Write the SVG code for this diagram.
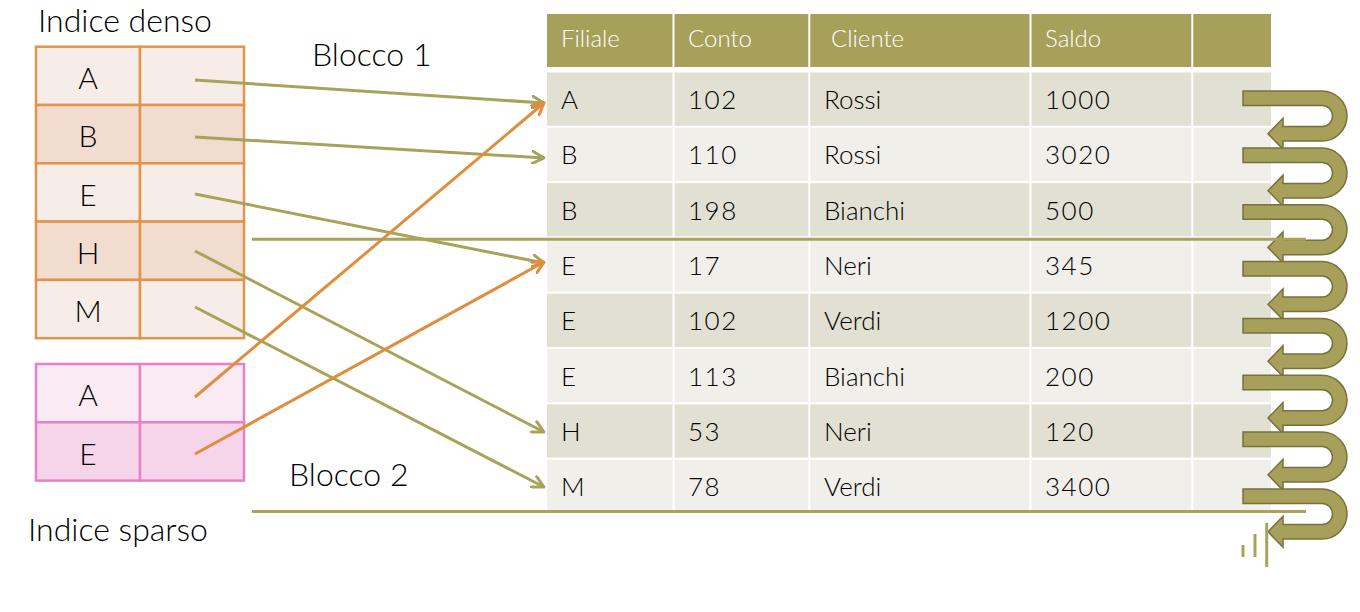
<svg xmlns="http://www.w3.org/2000/svg" xmlns:xlink="http://www.w3.org/1999/xlink" width="1360" height="612" viewBox="0 0 1360 612">
<style>
.t{font-family:Lato,"Open Sans","Liberation Sans",sans-serif;fill:#000;font-weight:300;}
.lbl{font-size:32px;}
.key{font-size:30px;text-anchor:middle;}
.hd{font-size:24px;fill:#fff;}
.dt{font-size:26px;}
.num{letter-spacing:1.5px;}
.dark{fill:#e1e0d2;}
.light{fill:#f0efea;}
.hdr{fill:#a6a05a;}
.dcell{stroke:#e0954a;stroke-width:2.5;}
.scell{stroke:#e683c8;stroke-width:2.5;}
.ol{stroke:#a8a35a;stroke-width:3;fill:none;}
.or{stroke:#e08d3c;stroke-width:3;fill:none;}
.sep{stroke:#fff;stroke-width:2;}
.u{fill:#a6a05a;stroke:#77713e;stroke-width:1.5;}
</style>
<defs>
<marker id="aOl" viewBox="0 0 14 14" refX="12.5" refY="7" markerWidth="14" markerHeight="14" markerUnits="userSpaceOnUse" orient="auto">
<path d="M1,1 L12.5,7 L1,13" fill="none" stroke="#a8a35a" stroke-width="3" stroke-linecap="round" stroke-linejoin="round"/>
</marker>
<marker id="aOr" viewBox="0 0 14 14" refX="12.5" refY="7" markerWidth="14" markerHeight="14" markerUnits="userSpaceOnUse" orient="auto">
<path d="M1,1 L12.5,7 L1,13" fill="none" stroke="#e08d3c" stroke-width="3" stroke-linecap="round" stroke-linejoin="round"/>
</marker>
<path id="uturn" class="u" d="M0,0 H79 A25,25 0 0 1 79,50 H40 V58.25 L25,42.75 L40,27.25 V35.5 H79 A10.5,10.5 0 0 0 79,14.5 H0 Z"/>
</defs>

<rect width="1360" height="612" fill="#fff"/>

<text class="t lbl" x="38" y="32">Indice denso</text>
<text class="t lbl" x="312" y="66">Blocco 1</text>
<text class="t lbl" x="289" y="486">Blocco 2</text>
<text class="t lbl" x="28" y="541">Indice sparso</text>

<g id="dense-index">
<g id="dense-A"><rect class="dcell" x="36" y="46.7" width="104" height="58.3" fill="#f7ede8"/><rect class="dcell" x="140" y="46.7" width="104" height="58.3" fill="#f7ede8"/><text class="t key" x="88" y="89">A</text></g>
<g id="dense-B"><rect class="dcell" x="36" y="105" width="104" height="58.3" fill="#f2dcd0"/><rect class="dcell" x="140" y="105" width="104" height="58.3" fill="#f2dcd0"/><text class="t key" x="88" y="147.3">B</text></g>
<g id="dense-E"><rect class="dcell" x="36" y="163.3" width="104" height="58.3" fill="#f7ede8"/><rect class="dcell" x="140" y="163.3" width="104" height="58.3" fill="#f7ede8"/><text class="t key" x="88" y="205.6">E</text></g>
<g id="dense-H"><rect class="dcell" x="36" y="221.6" width="104" height="58.3" fill="#f2dcd0"/><rect class="dcell" x="140" y="221.6" width="104" height="58.3" fill="#f2dcd0"/><text class="t key" x="88" y="263.9">H</text></g>
<g id="dense-M"><rect class="dcell" x="36" y="279.9" width="104" height="58.3" fill="#f7ede8"/><rect class="dcell" x="140" y="279.9" width="104" height="58.3" fill="#f7ede8"/><text class="t key" x="88" y="322.2">M</text></g>
</g>

<g id="sparse-index">
<g id="sparse-A"><rect class="scell" x="36" y="364" width="104" height="58.3" fill="#f9eaf3"/><rect class="scell" x="140" y="364" width="104" height="58.3" fill="#f9eaf3"/><text class="t key" x="88" y="406.3">A</text></g>
<g id="sparse-E"><rect class="scell" x="36" y="422.3" width="104" height="58.3" fill="#f5d5ea"/><rect class="scell" x="140" y="422.3" width="104" height="58.3" fill="#f5d5ea"/><text class="t key" x="88" y="464.6">E</text></g>
</g>

<g id="data-table">
<g id="header"><rect class="hdr" x="547" y="14" width="724" height="53"/>
<text class="t hd" x="561" y="46.5">Filiale</text><text class="t hd" x="688" y="46.5">Conto</text><text class="t hd" x="831" y="46.5">Cliente</text><text class="t hd" x="1045" y="46.5">Saldo</text></g>
<g id="row1"><rect class="dark" x="547" y="72.5" width="724" height="53.3"/><text class="t dt" x="561" y="109">A</text><text class="t dt num" x="688" y="109">102</text><text class="t dt" x="824" y="109">Rossi</text><text class="t dt num" x="1045" y="109">1000</text></g>
<g id="row2"><rect class="light" x="547" y="127.8" width="724" height="53.3"/><text class="t dt" x="561" y="164.3">B</text><text class="t dt num" x="688" y="164.3">110</text><text class="t dt" x="824" y="164.3">Rossi</text><text class="t dt num" x="1045" y="164.3">3020</text></g>
<g id="row3"><rect class="dark" x="547" y="183.1" width="724" height="53.3"/><text class="t dt" x="561" y="219.6">B</text><text class="t dt num" x="688" y="219.6">198</text><text class="t dt" x="824" y="219.6">Bianchi</text><text class="t dt num" x="1045" y="219.6">500</text></g>
<g id="row4"><rect class="light" x="547" y="238.4" width="724" height="53.3"/><text class="t dt" x="561" y="274.9">E</text><text class="t dt num" x="688" y="274.9">17</text><text class="t dt" x="824" y="274.9">Neri</text><text class="t dt num" x="1045" y="274.9">345</text></g>
<g id="row5"><rect class="dark" x="547" y="293.7" width="724" height="53.3"/><text class="t dt" x="561" y="330.2">E</text><text class="t dt num" x="688" y="330.2">102</text><text class="t dt" x="824" y="330.2">Verdi</text><text class="t dt num" x="1045" y="330.2">1200</text></g>
<g id="row6"><rect class="light" x="547" y="349" width="724" height="53.3"/><text class="t dt" x="561" y="385.5">E</text><text class="t dt num" x="688" y="385.5">113</text><text class="t dt" x="824" y="385.5">Bianchi</text><text class="t dt num" x="1045" y="385.5">200</text></g>
<g id="row7"><rect class="dark" x="547" y="404.3" width="724" height="53.3"/><text class="t dt" x="561" y="440.8">H</text><text class="t dt num" x="688" y="440.8">53</text><text class="t dt" x="824" y="440.8">Neri</text><text class="t dt num" x="1045" y="440.8">120</text></g>
<g id="row8"><rect class="light" x="547" y="459.6" width="724" height="53.3"/><text class="t dt" x="561" y="496.1">M</text><text class="t dt num" x="688" y="496.1">78</text><text class="t dt" x="824" y="496.1">Verdi</text><text class="t dt num" x="1045" y="496.1">3400</text></g>
<g id="col-separators" class="sep"><line x1="673.5" y1="14" x2="673.5" y2="513"/><line x1="809.3" y1="14" x2="809.3" y2="513"/><line x1="1030.5" y1="14" x2="1030.5" y2="513"/><line x1="1192.3" y1="14" x2="1192.3" y2="513"/></g>
</g>

<g id="scan-arrows">
<use xlink:href="#uturn" href="#uturn" x="1243" y="91"/>
<use xlink:href="#uturn" href="#uturn" x="1243" y="147.9"/>
<use xlink:href="#uturn" href="#uturn" x="1243" y="204.7"/>
<use xlink:href="#uturn" href="#uturn" x="1243" y="261.6"/>
<use xlink:href="#uturn" href="#uturn" x="1243" y="318.4"/>
<use xlink:href="#uturn" href="#uturn" x="1243" y="375.3"/>
<use xlink:href="#uturn" href="#uturn" x="1243" y="432.1"/>
<use xlink:href="#uturn" href="#uturn" x="1243" y="489"/>
</g>

<g id="connectors">
<line class="ol" x1="195" y1="80" x2="544" y2="103" marker-end="url(#aOl)"/>
<line class="ol" x1="195" y1="137" x2="544" y2="158" marker-end="url(#aOl)"/>
<line class="ol" x1="195" y1="194" x2="544" y2="263" marker-end="url(#aOl)"/>
<line class="ol" x1="195" y1="251" x2="544" y2="432" marker-end="url(#aOl)"/>
<line class="ol" x1="195" y1="307" x2="544" y2="487" marker-end="url(#aOl)"/>
<line class="or" x1="195" y1="397" x2="544" y2="103" marker-end="url(#aOr)"/>
<line class="or" x1="195" y1="454" x2="544" y2="262" marker-end="url(#aOr)"/>
<line class="ol" x1="252" y1="239.3" x2="1306" y2="239.3"/>
<line class="ol" x1="252" y1="511.5" x2="1306" y2="511.5"/>
</g>

<g id="tick-marks" class="ol">
<line x1="1243" y1="545" x2="1243" y2="557"/>
<line x1="1255" y1="534" x2="1255" y2="557"/>
<line x1="1266.7" y1="523" x2="1266.7" y2="567"/>
</g>
</svg>
